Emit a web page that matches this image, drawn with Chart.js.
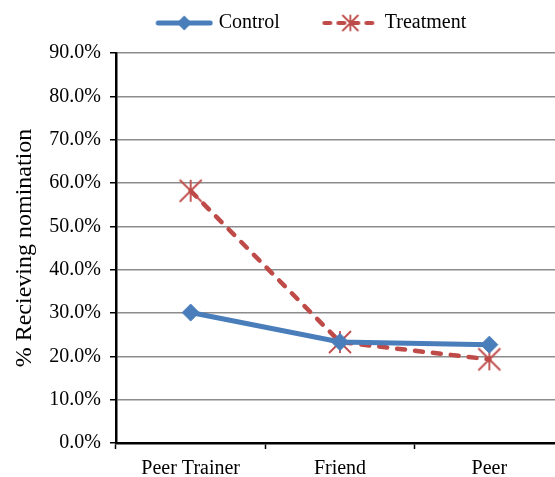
<!DOCTYPE html>
<html>
<head>
<meta charset="utf-8">
<script src="https://cdn.jsdelivr.net/npm/chart.js@4"></script>
<style>
html,body{margin:0;padding:0;background:#fff;overflow:hidden;width:555px;height:477px;}
#wrap{position:relative;width:555px;height:477px;overflow:hidden;}
#c{display:block;width:565px;height:477px;}
</style>
</head>
<body>
<div id="wrap"><canvas id="c" width="565" height="477"></canvas></div>
<script>
const categories = ['Peer Trainer', 'Friend', 'Peer'];
const controlValues = [30.1, 23.3, 22.7];
const treatmentValues = [58.2, 23.3, 19.3];
const yTicks = [0, 10, 20, 30, 40, 50, 60, 70, 80, 90];

const FONT = "'Liberation Serif', 'Times New Roman', serif";
const BLUE = '#4A7EBB';
const RED = '#BE4B48';

// asterisk marker (vertical bar + X) like the spreadsheet's star marker
function asterisk(half, lw) {
  const s = Math.ceil(half * 2 + lw + 2);
  const c = document.createElement('canvas');
  c.width = s; c.height = s;
  const g = c.getContext('2d');
  const m = s / 2;
  g.strokeStyle = RED; g.lineWidth = lw; g.lineCap = 'butt';
  g.beginPath();
  g.moveTo(m, m - half); g.lineTo(m, m + half);
  g.moveTo(m - half, m - half); g.lineTo(m + half, m + half);
  g.moveTo(m + half, m - half); g.lineTo(m - half, m + half);
  g.stroke();
  return c;
}
const starPoint = asterisk(11, 1.8);

// legend icon: line + marker, drawn at the right part of a wide canvas
function legendIcon(kind) {
  const c = document.createElement('canvas');
  c.width = 94; c.height = 22;
  const g = c.getContext('2d');
  const cy = 11, x0 = 37, x1 = 93, mx = (x0 + x1) / 2;
  if (kind === 'control') {
    g.strokeStyle = BLUE; g.lineWidth = 5; g.lineCap = 'round';
    g.beginPath(); g.moveTo(x0 + 2, cy); g.lineTo(x1 - 2, cy); g.stroke();
    g.fillStyle = BLUE;
    g.beginPath(); g.moveTo(mx, cy - 7.5); g.lineTo(mx + 7.5, cy); g.lineTo(mx, cy + 7.5); g.lineTo(mx - 7.5, cy); g.closePath(); g.fill();
  } else {
    g.strokeStyle = RED; g.lineWidth = 4; g.lineCap = 'round';
    g.setLineDash([6, 8]);
    g.beginPath(); g.moveTo(x0 + 2, cy); g.lineTo(x1 - 1, cy); g.stroke();
    g.setLineDash([]);
    g.lineWidth = 1.8;
    const r = 7.5;
    g.beginPath();
    g.moveTo(mx, cy - r); g.lineTo(mx, cy + r);
    g.moveTo(mx - r, cy - r); g.lineTo(mx + r, cy + r);
    g.moveTo(mx + r, cy - r); g.lineTo(mx - r, cy + r);
    g.stroke();
  }
  return c;
}
const icons = { control: legendIcon('control'), treatment: legendIcon('treatment') };

const legendShift = {
  id: 'legendShift',
  afterLayout(chart) {
    const l = chart.legend;
    if (l) { l.left += 13; l.right += 13; l.top -= 10; l.bottom -= 10; }
  }
};

new Chart(document.getElementById('c'), {
  type: 'line',
  data: {
    labels: categories,
    datasets: [
      {
        label: 'Control',
        data: controlValues,
        borderColor: BLUE,
        backgroundColor: BLUE,
        borderWidth: 5,
        pointStyle: 'rectRot',
        pointRadius: 8.5,
        pointHoverRadius: 8.5,
        pointBackgroundColor: BLUE,
        pointBorderColor: BLUE,
        pointBorderWidth: 1,
        tension: 0,
        fill: false
      },
      {
        label: 'Treatment',
        data: treatmentValues,
        borderColor: RED,
        backgroundColor: RED,
        borderWidth: 4.5,
        borderDash: [8, 10],
        borderCapStyle: 'round',
        pointStyle: starPoint,
        pointRadius: 11,
        pointHoverRadius: 11,
        tension: 0,
        fill: false
      }
    ]
  },
  options: {
    responsive: false,
    animation: false,
    devicePixelRatio: 1,
    layout: { autoPadding: false, padding: { top: 13, right: 1, left: 0, bottom: 0 } },
    plugins: {
      tooltip: { enabled: false },
      legend: {
        position: 'top',
        labels: {
          font: { family: FONT, size: 20 },
          color: '#000',
          usePointStyle: true,
          pointStyleWidth: 85,
          padding: 10,
          generateLabels(chart) {
            return chart.data.datasets.map((ds, i) => ({
              text: ds.label,
              pointStyle: i === 0 ? icons.control : icons.treatment,
              fillStyle: ds.borderColor,
              strokeStyle: ds.borderColor,
              lineWidth: 0,
              fontColor: '#000',
              hidden: false,
              datasetIndex: i
            }));
          }
        }
      }
    },
    scales: {
      x: {
        offset: true,
        grid: {
          display: true,
          offset: true,
          drawOnChartArea: false,
          drawTicks: true,
          tickLength: 6,
          tickColor: '#000',
          tickWidth: 1.5
        },
        border: { display: true, color: '#000', width: 2.5 },
        ticks: {
          font: { family: FONT, size: 20 },
          color: '#000',
          padding: 8,
          maxRotation: 0
        },
        afterFit(s) { s.height = 34; }
      },
      y: {
        min: 0,
        max: 90,
        afterBuildTicks(s) { s.ticks = yTicks.map(v => ({ value: v })); },
        grid: {
          color: '#8C8C8C',
          lineWidth: 1.5,
          drawTicks: true,
          tickLength: 6,
          tickColor: '#000',
          tickWidth: 1.5
        },
        border: { display: true, color: '#000', width: 2.5 },
        ticks: {
          font: { family: FONT, size: 20 },
          color: '#000',
          padding: 9,
          callback: v => v.toFixed(1) + '%'
        },
        title: {
          display: true,
          text: '% Recieving nomination',
          font: { family: FONT, size: 24 },
          color: '#000',
          padding: { top: 10, bottom: 0 }
        },
        afterFit(s) { s.width = 116; }
      }
    }
  },
  plugins: [legendShift]
});
</script>
</body>
</html>
